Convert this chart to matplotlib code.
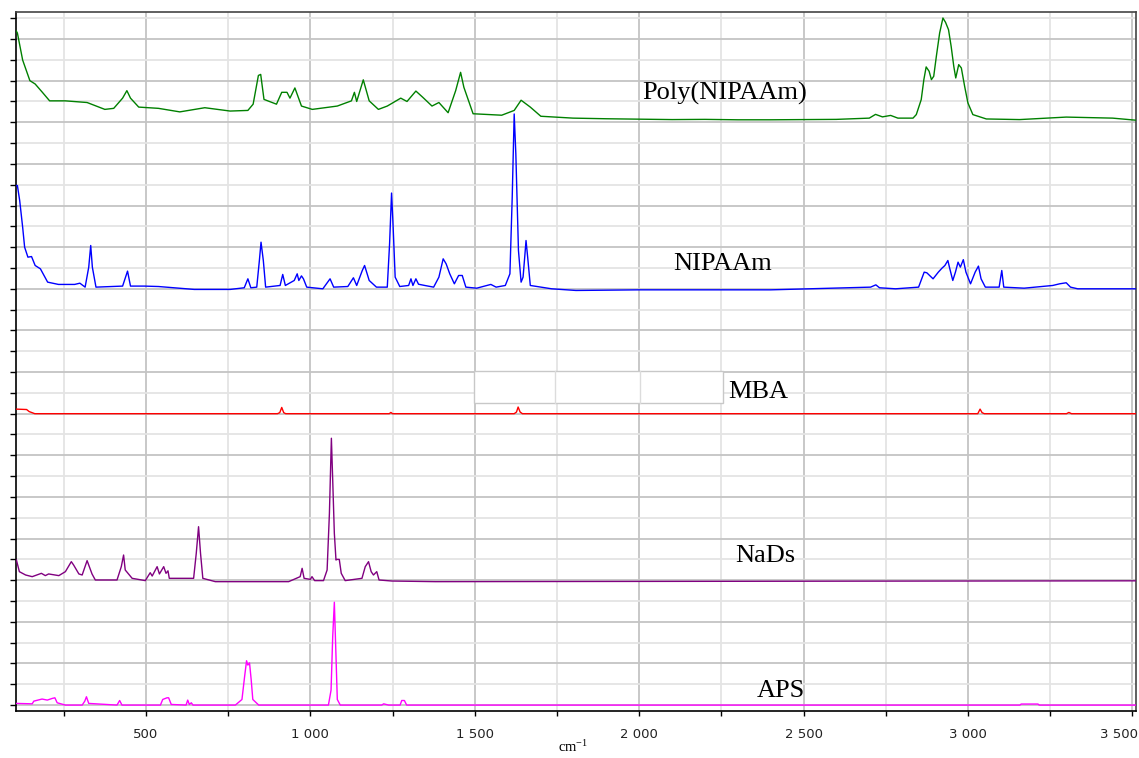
import matplotlib
matplotlib.use("Agg")
import matplotlib.pyplot as plt
from matplotlib.ticker import MultipleLocator, FuncFormatter
from matplotlib.patches import Rectangle

plt.rcParams['mathtext.default'] = 'regular'

# Raman shift (cm-1) and intensity (relative to each trace's own baseline)
poly_x = [105, 109, 125, 147, 163, 185, 207, 255, 321, 375, 402, 429, 442, 453, 478, 538, 603, 679, 756, 810,
          826, 842, 849, 859, 897, 913, 929, 938, 953, 973, 1006, 1082, 1125, 1134, 1141, 1161, 1179, 1207, 1234, 1275,
          1294, 1321, 1342, 1370, 1391, 1419, 1442, 1457, 1467, 1495, 1582, 1620, 1641, 1669, 1701, 1799, 1900, 2000, 2100, 2200,
          2300, 2400, 2500, 2600, 2700, 2719, 2740, 2765, 2787, 2833, 2843, 2858, 2866, 2873, 2882, 2889, 2896, 2904, 2914, 2924,
          2932, 2941, 2949, 2957, 2963, 2972, 2980, 2990, 3000, 3015, 3056, 3157, 3299, 3440, 3511]
poly_y = [4.4, 4.29, 2.99, 2.0, 1.84, 1.44, 1.03, 1.03, 0.95, 0.62, 0.67, 1.16, 1.52, 1.16, 0.73, 0.67, 0.5, 0.7, 0.54, 0.57,
          0.87, 2.25, 2.3, 1.1, 0.87, 1.44, 1.44, 1.16, 1.65, 0.78, 0.62, 0.78, 1.03, 1.44, 1.0, 2.04, 1.03, 0.62, 0.78, 1.16,
          1.0, 1.5, 1.2, 0.78, 0.95, 0.46, 1.52, 2.4, 1.68, 0.41, 0.34, 0.57, 1.06, 0.73, 0.29, 0.2, 0.17, 0.15, 0.13, 0.14,
          0.12, 0.12, 0.13, 0.14, 0.2, 0.38, 0.26, 0.33, 0.2, 0.2, 0.37, 1.09, 2.05, 2.66, 2.45, 2.05, 2.21, 3.17, 4.29, 5.01,
          4.8, 4.45, 3.65, 2.69, 2.13, 2.77, 2.61, 1.73, 0.93, 0.37, 0.16, 0.13, 0.25, 0.2, 0.1]

nipaam_x = [105, 109, 116, 125, 131, 141, 152, 163, 179, 201, 234, 283, 299, 315, 326, 332, 337, 348, 429, 444,
            453, 495, 538, 647, 756, 799, 810, 819, 837, 845, 850, 857, 864, 908, 916, 924, 951, 960, 965, 973,
            979, 989, 1038, 1060, 1071, 1114, 1131, 1141, 1158, 1165, 1179, 1201, 1234, 1241, 1247, 1251, 1258, 1272, 1299, 1306,
            1312, 1321, 1329, 1348, 1375, 1391, 1404, 1413, 1424, 1438, 1451, 1462, 1473, 1506, 1549, 1565, 1593, 1607, 1614, 1620,
            1625, 1633, 1641, 1647, 1652, 1656, 1661, 1669, 1734, 1808, 2000, 2400, 2704, 2720, 2731, 2780, 2850, 2867, 2875, 2894,
            2910, 2921, 2930, 2939, 2945, 2954, 2962, 2970, 2977, 2986, 2994, 3008, 3022, 3032, 3040, 3053, 3095, 3103, 3109, 3171,
            3258, 3279, 3299, 3312, 3334, 3511]
nipaam_y = [4.96, 4.96, 4.24, 2.96, 2.0, 1.52, 1.55, 1.12, 0.96, 0.32, 0.21, 0.21, 0.27, 0.08, 1.04, 2.08, 1.04, 0.08, 0.13, 0.85,
            0.13, 0.13, 0.11, -0.03, -0.03, 0.05, 0.48, 0.05, 0.08, 1.36, 2.24, 1.36, 0.08, 0.16, 0.69, 0.16, 0.4, 0.72, 0.4, 0.62,
            0.48, 0.08, 0.0, 0.48, 0.08, 0.11, 0.53, 0.16, 0.88, 1.12, 0.4, 0.08, 0.08, 2.16, 4.6, 3.28, 0.56, 0.11, 0.16, 0.48,
            0.16, 0.48, 0.22, 0.16, 0.08, 0.56, 1.44, 1.2, 0.72, 0.24, 0.64, 0.64, 0.08, 0.03, 0.21, 0.08, 0.16, 0.72, 4.4, 8.4,
            6.48, 1.84, 0.32, 0.56, 1.52, 2.32, 1.52, 0.16, 0.0, -0.08, -0.05, -0.05, 0.08, 0.19, 0.05, 0.0, 0.08, 0.8, 0.77, 0.48,
            0.8, 0.99, 1.12, 1.36, 0.96, 0.4, 0.8, 1.28, 1.04, 1.4, 0.8, 0.24, 0.8, 1.09, 0.48, 0.08, 0.08, 0.88, 0.08, 0.03,
            0.16, 0.24, 0.29, 0.08, 0.0, 0.0]

mba_x = [105, 137, 145, 162, 900, 907, 913, 919, 925, 1240, 1245, 1250, 1620, 1627, 1632, 1638, 1645,
         3030, 3037, 3043, 3050, 3300, 3307, 3315, 3511]
mba_y = [0.22, 0.2, 0.1, 0.0, 0.0, 0.05, 0.3, 0.05, 0.0, 0.0, 0.06, 0.0, 0.0, 0.08, 0.32, 0.08, 0.0,
         0.0, 0.22, 0.05, 0.0, 0.0, 0.06, 0.0, 0.0]

nads_x = [106, 115, 134, 154, 182, 194, 204, 235, 255, 273, 280, 296, 306, 321, 336, 346, 412, 425, 432, 437,
          458, 498, 513, 519, 534, 541, 554, 561, 567, 571, 645, 653, 660, 666, 673, 711, 934, 969, 975, 981,
          1000, 1005, 1013, 1040, 1051, 1058, 1064, 1068, 1073, 1078, 1081, 1088, 1094, 1106, 1157, 1167, 1177, 1185, 1192, 1202,
          1209, 1248, 1380, 3511]
nads_y = [0.97, 0.41, 0.25, 0.17, 0.33, 0.22, 0.3, 0.22, 0.41, 0.89, 0.73, 0.3, 0.25, 0.94, 0.3, 0.01, 0.01, 0.65, 1.21, 0.49,
          0.09, -0.02, 0.36, 0.2, 0.65, 0.3, 0.65, 0.33, 0.45, 0.09, 0.09, 1.29, 2.57, 1.29, 0.09, -0.07, -0.07, 0.17, 0.57, 0.09,
          0.04, 0.17, -0.02, -0.02, 0.49, 3.21, 6.82, 4.82, 2.25, 0.97, 1.0, 1.0, 0.33, -0.02, 0.09, 0.65, 0.89, 0.41, 0.25, 0.41,
          0.01, -0.04, -0.07, -0.03]

aps_x = [106, 154, 159, 184, 200, 215, 223, 230, 255, 306, 314, 319, 326, 412, 420, 427, 544, 551, 564, 569,
         577, 622, 627, 632, 638, 643, 772, 792, 800, 806, 810, 815, 820, 825, 843, 1055, 1063, 1068, 1073, 1078,
         1082, 1091, 1217, 1223, 1238, 1273, 1278, 1286, 1293, 1380, 3158, 3162, 3213, 3217, 3511]
aps_y = [0.08, 0.06, 0.19, 0.29, 0.24, 0.32, 0.35, 0.11, 0.0, 0.0, 0.19, 0.4, 0.08, 0.0, 0.22, 0.0, 0.0, 0.27, 0.35, 0.35,
         0.03, 0.0, 0.24, 0.03, 0.11, 0.0, 0.0, 0.27, 1.36, 2.13, 1.92, 2.03, 1.23, 0.27, 0.0, 0.0, 0.72, 3.28, 4.94, 2.35,
         0.27, 0.0, 0.0, 0.06, 0.0, 0.0, 0.22, 0.22, 0.0, 0.0, 0.0, 0.05, 0.05, 0.0, 0.0]

names = ["Poly(NIPAAm)", "NIPAAm", "MBA", "NaDs", "APS"]
offsets = [28, 20, 14, 6, 0]
colors = ["#008000", "#0000ff", "#ff0000", "#800080", "#ff00ff"]
label_pos = [(2008, 29.1), (2104, 20.9), (2271, 14.77), (2291, 6.88), (2358, 0.38)]

spectra = [(poly_x, poly_y), (nipaam_x, nipaam_y), (mba_x, mba_y), (nads_x, nads_y), (aps_x, aps_y)]

fig = plt.figure(figsize=(11.39, 7.58), dpi=100)
ax = fig.add_axes([0.014, 0.0624, 0.9833, 0.9218])

for (xs, ys), off, c in zip(spectra, offsets, colors):
    assert len(xs) == len(ys)
    ax.plot(xs, [v + off for v in ys], color=c, lw=1.0, zorder=3)

for name, (tx, ty) in zip(names, label_pos):
    ax.text(tx, ty, name, fontsize=19, family="Liberation Serif", va="baseline", ha="left", zorder=4)

# leftover white box next to the MBA label
ax.add_patch(Rectangle((1498, 14.5), 756, 1.57, facecolor="white", edgecolor="#c8c8c8", lw=1.0, zorder=2))
ax.plot([1744, 1744], [14.5, 16.07], color="#dcdcdc", lw=1.0, zorder=2.1)
ax.plot([2002, 2002], [14.5, 16.07], color="#dcdcdc", lw=1.0, zorder=2.1)

xmax = 3511
ax.set_xlim(104.6, xmax)
ax.set_ylim(-0.27, 33.3)


def fmt_x(v, p):
    if v >= 3500:
        return ""  # last label drawn separately so it stays inside the figure
    return f"{int(v):,}".replace(",", " ")


ax.xaxis.set_major_locator(MultipleLocator(500))
ax.xaxis.set_minor_locator(MultipleLocator(250))
ax.yaxis.set_major_locator(MultipleLocator(2))
ax.yaxis.set_minor_locator(MultipleLocator(1))
ax.xaxis.set_major_formatter(FuncFormatter(fmt_x))
ax.yaxis.set_major_formatter(FuncFormatter(lambda v, p: ""))

ax.tick_params(axis="x", which="both", direction="out", length=3.6, width=1, pad=8.5, labelsize=9.5,
               labelcolor="#222222")
ax.tick_params(axis="y", which="both", direction="out", length=4.3, width=1, left=True)

ax.annotate("3 500", xy=(1, 0), xycoords="axes fraction", xytext=(1.5, -12.1), textcoords="offset points",
            ha="right", va="top", fontsize=9.5, color="#222222", annotation_clip=False)

ax.set_axisbelow(True)
ax.grid(which="major", color="#c4c4c4", lw=1.3)
ax.grid(which="minor", color="#e4e4e4", lw=1.3)

for side in ["left", "bottom"]:
    ax.spines[side].set_color("black")
    ax.spines[side].set_linewidth(1.2)
for side in ["top", "right"]:
    ax.spines[side].set_color("#444444")
    ax.spines[side].set_linewidth(1.2)

fig.text(0.503, 0.0145, "cm$^{-1}$", fontsize=10.5, family="Liberation Serif", ha="center", va="center")

fig.savefig("out.png", dpi=100)
